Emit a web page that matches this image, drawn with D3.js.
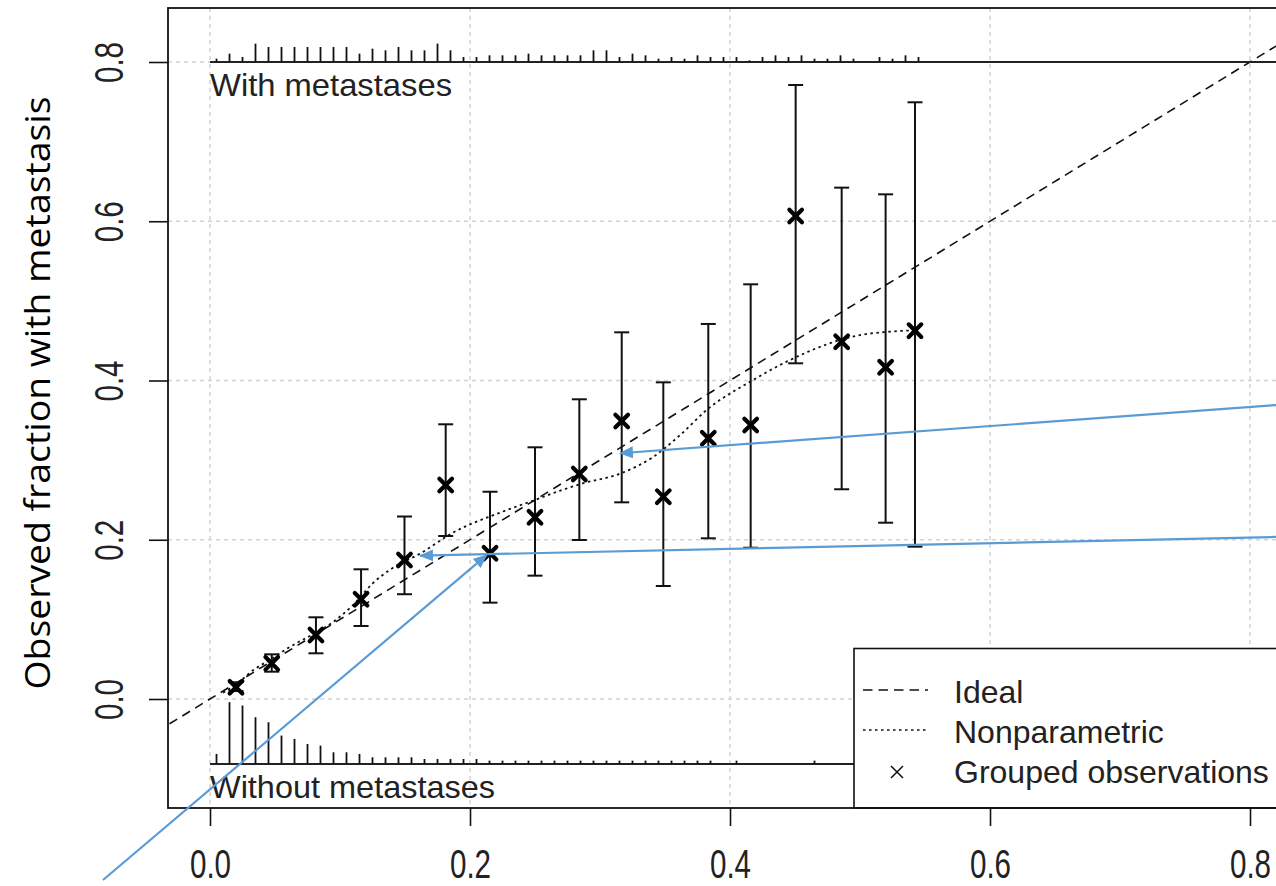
<!DOCTYPE html>
<html><head><meta charset="utf-8">
<script src="https://cdn.jsdelivr.net/npm/d3@7"></script>
<style>body{margin:0;background:#fff;} svg{display:block;}</style>
</head><body>
<svg id="chart" width="1276" height="886"></svg>
<script>
// ---------- data ----------
const xTicks = [0, 0.2, 0.4, 0.6, 0.8];
const yTicks = [0, 0.2, 0.4, 0.6, 0.8];

// grouped observations (mean predicted, observed fraction, CI)
const groupPred  = [0.020,0.0475,0.0815,0.1162,0.1496,0.1813,0.2154,0.250,0.2841,0.3167,0.3487,0.3833,0.4159,0.4505,0.4859,0.5197,0.5423];
const groupObs   = [0.0147,0.0448,0.0804,0.1252,0.1746,0.2688,0.183,0.2282,0.2826,0.3491,0.2541,0.3274,0.3441,0.6066,0.4487,0.4166,0.4626];
const groupLower = [0.010,0.0343,0.0574,0.0917,0.1316,0.2047,0.121,0.1549,0.1997,0.247,0.1419,0.2018,0.190,0.4216,0.2634,0.2214,0.1913];
const groupUpper = [0.021,0.0561,0.1026,0.1629,0.2292,0.345,0.2603,0.3161,0.3764,0.4605,0.3977,0.471,0.5208,0.7711,0.6422,0.6338,0.7494];

// nonparametric calibration curve
const npPred = [0.010,0.020,0.033,0.047,0.062,0.080,0.095,0.110,0.125,0.140,0.162,0.187,0.223,0.250,0.270,0.285,0.317,0.340,0.362,0.382,0.415,0.444,0.485,0.500,0.520,0.542];
const npObs  = [0.008,0.018,0.036,0.050,0.066,0.082,0.097,0.118,0.145,0.164,0.183,0.209,0.234,0.250,0.262,0.270,0.284,0.303,0.332,0.363,0.398,0.424,0.451,0.457,0.461,0.463];

// ideal line
const idealX = [-0.1, 1.1];

// spike histogram bins (predicted probability)
const binMid = [0.005,0.015,0.025,0.035,0.045,0.055,0.065,0.075,0.085,0.095,0.105,0.115,0.125,0.135,0.145,0.155,0.165,0.175,0.185,0.195,0.205,0.215,0.225,0.235,0.245,0.255,0.265,0.275,0.285,0.295,0.305,0.315,0.325,0.335,0.345,0.355,0.365,0.375,0.385,0.395,0.405,0.415,0.425,0.435,0.445,0.455,0.465,0.475,0.485,0.495,0.505,0.515,0.525,0.535,0.545];
const withCounts    = [2,5,3,11,9,9,9,9,9,9,9,5,8,7,9,7,7,11,7,3,3,4,4,4,5,4,4,4,4,7,7,3,5,4,2,3,2,4,3,3,3,1,3,4,3,4,2,2,4,2,0,3,2,4,3];
const withoutCounts = [6,37,35,28,25,17,15,12,11,7,7,6,4,4,4,4,3,3,3,3,3,2,2,2,2,2,2,2,2,2,2,2,2,2,2,2,2,2,2,0,2,0,0,0,0,0,2,0,0,0,0,0,0,0,0];

// annotation arrows (data units): start -> end
const arrowStartX = [0.82, 0.82, -0.0823];
const arrowStartY = [0.3692, 0.2035, -0.2273];
const arrowEndX   = [0.3154, 0.1615, 0.2128];
const arrowEndY   = [0.3086, 0.180, 0.1808];

const legendLabels = ["Ideal", "Nonparametric", "Grouped observations"];

// ---------- layout ----------
const svg = d3.select("#chart");
const x = d3.scaleLinear().domain([0, 0.8]).range([210, 1250]);
const y = d3.scaleLinear().domain([0, 0.8]).range([699, 62]);
const box = {left: 168, top: 8, right: 1330, bottom: 808};
const rugH = d3.scaleLinear().domain([0, 37]).range([0, 61.8]);
const rugTop = 0.8, rugBottom = -0.0816;
const blue = "#5B9BD5";

const defs = svg.append("defs");
defs.append("clipPath").attr("id","plotclip").append("rect")
  .attr("x", box.left).attr("y", box.top).attr("width", box.right-box.left).attr("height", box.bottom-box.top);
defs.append("marker").attr("id","arrowhead")
  .attr("viewBox","0 0 14 12").attr("refX",13).attr("refY",6)
  .attr("markerWidth",14).attr("markerHeight",12).attr("markerUnits","userSpaceOnUse")
  .attr("orient","auto")
  .append("path").attr("d","M0,0 L14,6 L0,12 z").attr("fill", blue);

const plot = svg.append("g").attr("clip-path","url(#plotclip)");

// grid
plot.selectAll(".vgrid").data(xTicks).join("line")
  .attr("x1", d=>x(d)).attr("x2", d=>x(d)).attr("y1", box.top).attr("y2", box.bottom)
  .attr("stroke","#d4d4d4").attr("stroke-width",1.5).attr("stroke-dasharray","4,4");
plot.selectAll(".hgrid").data(yTicks).join("line")
  .attr("x1", box.left).attr("x2", box.right).attr("y1", d=>y(d)).attr("y2", d=>y(d))
  .attr("stroke","#d4d4d4").attr("stroke-width",1.5).attr("stroke-dasharray","4,4");

// ideal
plot.append("path").datum(idealX)
  .attr("d", d3.line().x(d=>x(d)).y(d=>y(d)))
  .attr("fill","none").attr("stroke","#111").attr("stroke-width",1.6).attr("stroke-dasharray","9,6");

// nonparametric
plot.append("path").datum(npPred.map((p,i)=>[p, npObs[i]]))
  .attr("d", d3.line().x(d=>x(d[0])).y(d=>y(d[1])).curve(d3.curveMonotoneX))
  .attr("fill","none").attr("stroke","#111").attr("stroke-width",1.8).attr("stroke-dasharray","2.5,3.5");

// rugs
plot.append("line").attr("x1", x(0)).attr("x2", x(1.1)).attr("y1", y(rugTop)).attr("y2", y(rugTop))
  .attr("stroke","#222").attr("stroke-width",2);
plot.append("line").attr("x1", x(0)).attr("x2", x(1.1)).attr("y1", y(rugBottom)).attr("y2", y(rugBottom))
  .attr("stroke","#222").attr("stroke-width",2);
plot.selectAll(".spikeTop").data(binMid.map((b,i)=>[b, withCounts[i]]).filter(d=>d[1]>0)).join("line")
  .attr("x1", d=>x(d[0])).attr("x2", d=>x(d[0]))
  .attr("y1", y(rugTop)).attr("y2", d=>y(rugTop)-rugH(d[1]))
  .attr("stroke","#111").attr("stroke-width",1.8);
plot.selectAll(".spikeBot").data(binMid.map((b,i)=>[b, withoutCounts[i]]).filter(d=>d[1]>0)).join("line")
  .attr("x1", d=>x(d[0])).attr("x2", d=>x(d[0]))
  .attr("y1", y(rugBottom)).attr("y2", d=>y(rugBottom)-rugH(d[1]))
  .attr("stroke","#111").attr("stroke-width",1.8);

const labFont = "'Liberation Sans', Arial, sans-serif";
plot.append("text").attr("x", x(0)).attr("y", 96).text("With metastases")
  .attr("font-family", labFont).attr("font-size", 32).attr("fill","#222")
  .attr("textLength", 242).attr("lengthAdjust","spacingAndGlyphs");
plot.append("text").attr("x", x(0)).attr("y", 798).text("Without metastases")
  .attr("font-family", labFont).attr("font-size", 32).attr("fill","#222")
  .attr("textLength", 285).attr("lengthAdjust","spacingAndGlyphs");

// error bars
const eb = plot.append("g").attr("stroke","#111").attr("stroke-width",2);
groupPred.forEach((p,i)=>{
  eb.append("line").attr("x1",x(p)).attr("x2",x(p)).attr("y1",y(groupLower[i])).attr("y2",y(groupUpper[i]));
  eb.append("line").attr("x1",x(p)-7.5).attr("x2",x(p)+7.5).attr("y1",y(groupLower[i])).attr("y2",y(groupLower[i]));
  eb.append("line").attr("x1",x(p)-7.5).attr("x2",x(p)+7.5).attr("y1",y(groupUpper[i])).attr("y2",y(groupUpper[i]));
});
// points (bold x)
const s = 6.3;
plot.selectAll(".pt").data(groupPred.map((p,i)=>[p, groupObs[i]])).join("path")
  .attr("d", d=>{const cx=x(d[0]), cy=y(d[1]); return `M${cx-s},${cy-s}L${cx+s},${cy+s}M${cx-s},${cy+s}L${cx+s},${cy-s}`;})
  .attr("stroke","#000").attr("stroke-width",4.2).attr("stroke-linecap","round").attr("fill","none");

// legend
const lg = svg.append("g");
lg.append("rect").attr("x",854).attr("y",648.5).attr("width",500).attr("height",box.bottom-648.5)
  .attr("fill","#fff").attr("stroke","#111").attr("stroke-width",1.6);
lg.append("line").attr("x1",863).attr("x2",928).attr("y1",690).attr("y2",690)
  .attr("stroke","#111").attr("stroke-width",1.6).attr("stroke-dasharray","9.5,6");
lg.append("line").attr("x1",863).attr("x2",928).attr("y1",730).attr("y2",730)
  .attr("stroke","#111").attr("stroke-width",1.6).attr("stroke-dasharray","2.5,3.5");
lg.append("path").attr("d","M891,766L903,778M891,778L903,766").attr("stroke","#111").attr("stroke-width",1.5);
lg.selectAll(".lt").data(legendLabels).join("text")
  .attr("x",954).attr("y",(d,i)=>703+i*40).text(d=>d)
  .attr("font-family",labFont).attr("font-size",32).attr("fill","#222");

// box
svg.append("rect").attr("x",box.left).attr("y",box.top).attr("width",box.right-box.left).attr("height",box.bottom-box.top)
  .attr("fill","none").attr("stroke","#111").attr("stroke-width",1.8);

// axes
const xAxis = svg.append("g").attr("transform",`translate(0,${box.bottom})`)
  .call(d3.axisBottom(x).tickValues(xTicks).tickSize(18).tickFormat(d3.format(".1f")));
const yAxis = svg.append("g").attr("transform",`translate(${box.left},0)`)
  .call(d3.axisLeft(y).tickValues(yTicks).tickSize(19).tickFormat(d3.format(".1f")));
[xAxis, yAxis].forEach(a=>{
  a.select(".domain").remove();
  a.selectAll(".tick line").attr("stroke","#111").attr("stroke-width",1.6);
  a.attr("font-family", labFont).attr("font-size", 40);
  a.selectAll("text").attr("fill","#222");
});
xAxis.selectAll(".tick text").attr("y",null).attr("dy",null)
  .attr("transform","translate(0,70) scale(0.74,1)").attr("text-anchor","middle");
yAxis.selectAll(".tick text").attr("x",null).attr("dy",null)
  .attr("transform","translate(-45,0) rotate(-90) scale(0.74,1)").attr("text-anchor","middle");

// annotation arrows
svg.selectAll(".arrow").data(arrowStartX.map((sx,i)=>i)).join("line")
  .attr("x1", i=>x(arrowStartX[i])).attr("y1", i=>y(arrowStartY[i]))
  .attr("x2", i=>x(arrowEndX[i])).attr("y2", i=>y(arrowEndY[i]))
  .attr("stroke", blue).attr("stroke-width",2.2).attr("marker-end","url(#arrowhead)");

// y title
svg.append("text").attr("transform","translate(50,393) rotate(-90)")
  .attr("text-anchor","middle").text("Observed fraction with metastasis")
  .attr("font-family","'Open Sans', 'Noto Sans', sans-serif").attr("font-size",35).attr("fill","#000")
  .attr("textLength",593).attr("lengthAdjust","spacingAndGlyphs");
</script>
</body></html>
